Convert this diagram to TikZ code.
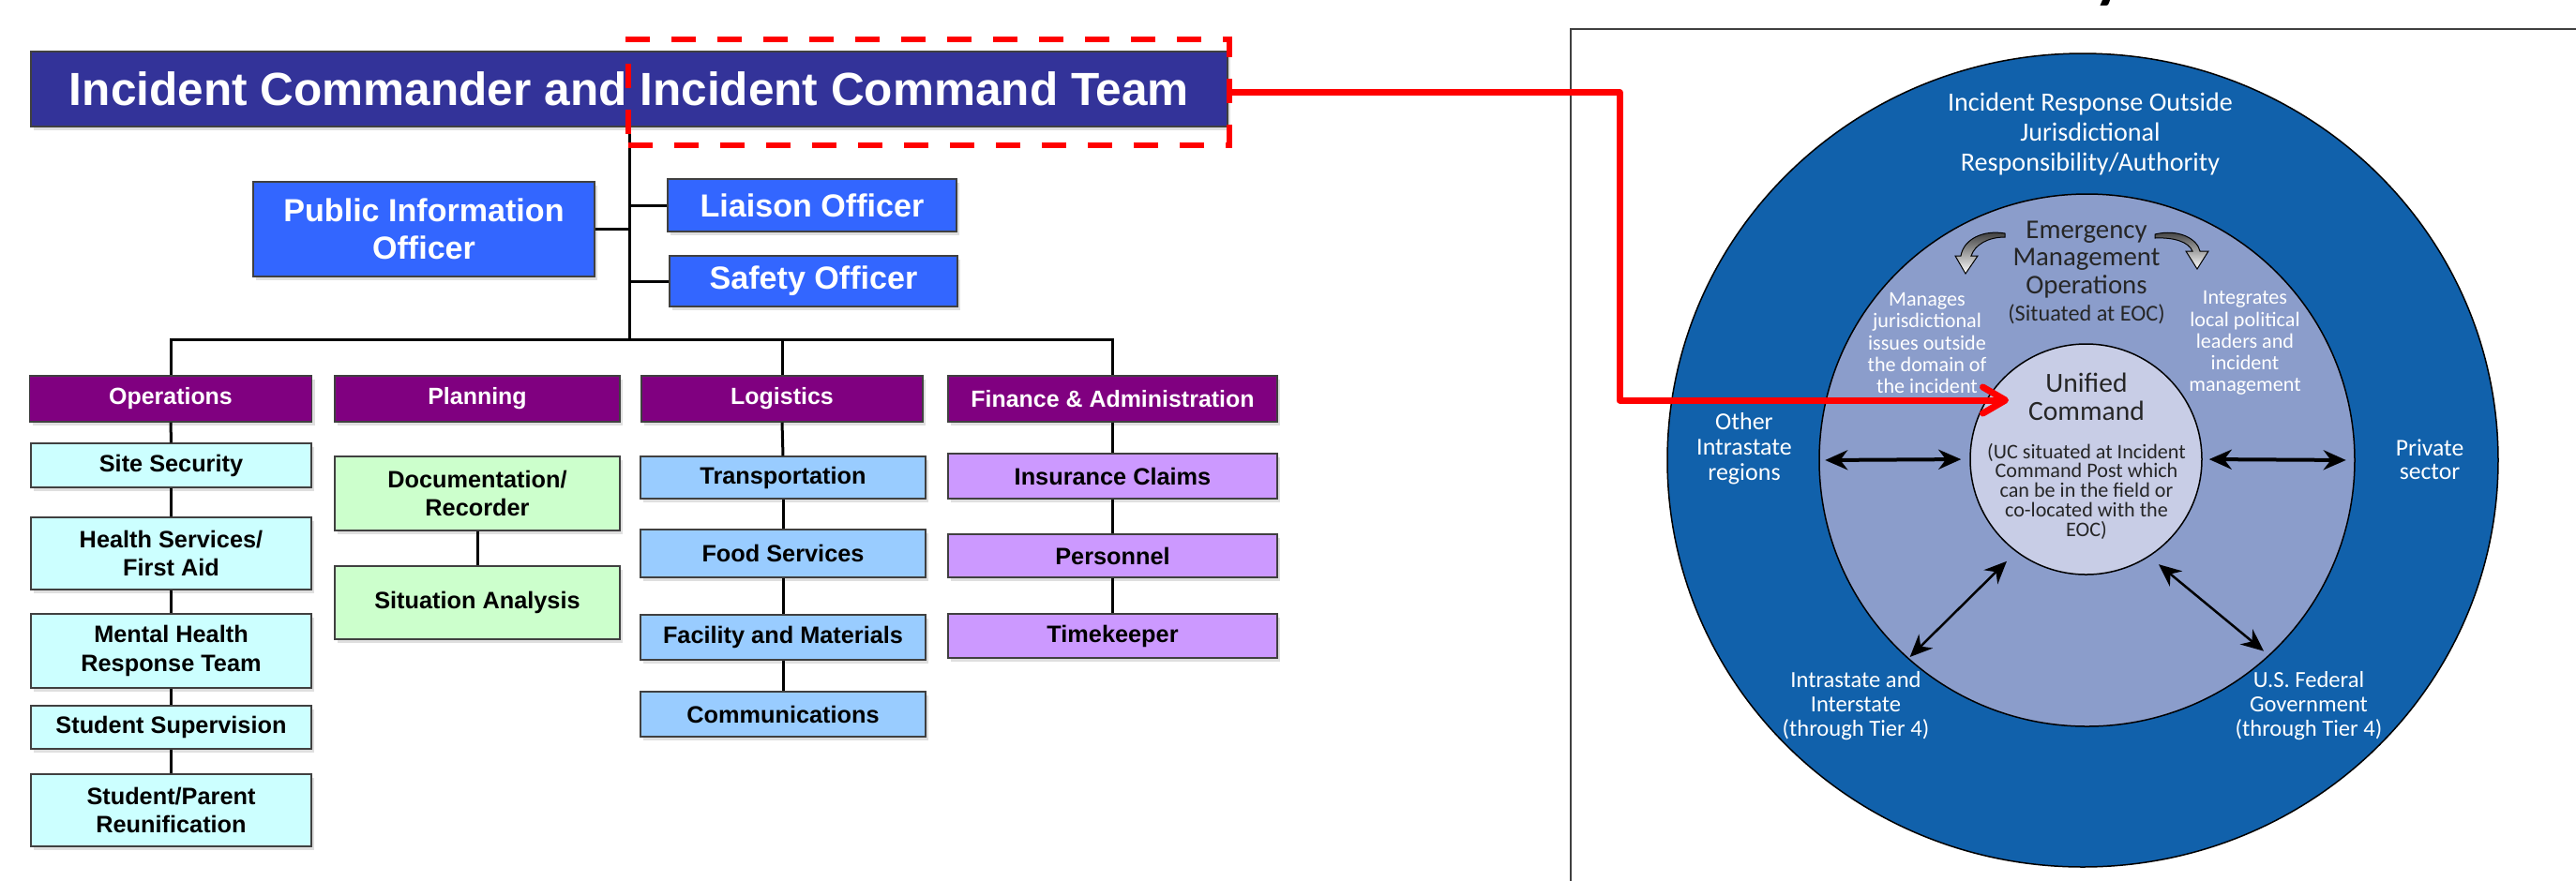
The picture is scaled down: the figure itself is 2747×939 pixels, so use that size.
\documentclass[tikz,border=0pt]{standalone}
\usepackage{fontspec}
\setmainfont{Liberation Sans}
\newfontfamily\gillfont{Carlito}
\usetikzlibrary{shapes.geometric,arrows.meta,shadows}
\definecolor{cmdblue}{RGB}{51,51,153}
\definecolor{staffblue}{RGB}{51,102,255}
\definecolor{sectpurple}{RGB}{128,0,128}
\definecolor{opscyan}{RGB}{204,255,255}
\definecolor{plangreen}{RGB}{204,255,204}
\definecolor{logblue}{RGB}{153,204,255}
\definecolor{finlilac}{RGB}{204,153,255}
\definecolor{ringdark}{RGB}{17,97,171}
\definecolor{ringmid}{RGB}{139,157,203}
\definecolor{ringpale}{RGB}{200,205,230}
\definecolor{hilitered}{RGB}{255,0,0}

\begin{document}
\begin{tikzpicture}[x=0.1mm, y=-0.1mm,
    chartbox/.style={draw=black!75, line width=0.15mm, rectangle, align=center, inner sep=0pt,
        drop shadow={shadow xshift=0.3mm, shadow yshift=-0.4mm, opacity=0.25}},
    cmdbox/.style={chartbox, fill=cmdblue, text=white, font=\fontsize{14.1}{17}\selectfont\bfseries},
    staffbox/.style={chartbox, fill=staffblue, text=white, font=\fontsize{9.7}{11.4}\selectfont\bfseries},
    sectbox/.style={chartbox, fill=sectpurple, text=white, minimum height=4.9mm, font=\fontsize{7.1}{8.6}\selectfont\bfseries},
    unitbox/.style={chartbox, text=black, font=\fontsize{7.2}{8.6}\selectfont\bfseries},
    orgline/.style={black, line width=0.3mm},
    ring/.style={ellipse, draw=black, line width=0.15mm, inner sep=0pt},
    ringlbl/.style={align=center, inner sep=0pt, text=white},
    darklbl/.style={align=center, inner sep=0pt, text=black!85},
    linkarrow/.style={black, line width=0.4mm, {Stealth[length=2.4mm, width=2.1mm]}-{Stealth[length=2.4mm, width=2.1mm]}},
    bentarrow/.style={draw=black, line width=0.1mm, top color=black!80, bottom color=white},
    redlink/.style={hilitered, line width=0.7mm, line join=round, -{Straight Barb[length=2.4mm, width=2.8mm, round]}}
]
    \useasboundingbox (0,0) rectangle (2747,939);

    %Place title node
    \node[cmdbox, minimum width=127.6mm, minimum height=8mm] (cmd) at (671,95) {Incident Commander and Incident Command Team};

    %Place staff nodes
    \node[staffbox, minimum width=36.4mm, minimum height=10.1mm] (pio) at (452,244.5) {Public Information\\Officer};
    \node[staffbox, minimum width=30.8mm, minimum height=5.6mm] (liaison) at (866,219) {Liaison Officer};
    \node[staffbox, minimum width=30.7mm, minimum height=5.4mm] (safety) at (867.5,300) {Safety Officer};

    \coordinate (busmid) at (671,362);

    %Place section nodes
    \node[sectbox, minimum width=30.1mm] (ops) at (182,425.5) {Operations};
    \node[sectbox, minimum width=30.4mm] (plan) at (509,425.5) {Planning};
    \node[sectbox, minimum width=30mm] (logi) at (834,425.5) {Logistics};
    \node[sectbox, minimum width=35.1mm] (fin) at (1186.5,425.5) {Finance \& Administration};

    %Place operations nodes
    \node[unitbox, fill=opscyan, minimum width=29.9mm, minimum height=4.7mm] (sitesec) at (182.5,496.5) {Site Security};
    \node[unitbox, fill=opscyan, minimum width=29.9mm, minimum height=7.7mm] (health) at (182.5,590.5) {Health Services/\\First Aid};
    \node[unitbox, fill=opscyan, minimum width=29.9mm, minimum height=7.9mm] (mental) at (182.5,694.5) {Mental Health\\Response Team};
    \node[unitbox, fill=opscyan, minimum width=29.9mm, minimum height=4.6mm] (stusup) at (182.5,776) {Student Supervision};
    \node[unitbox, fill=opscyan, minimum width=29.9mm, minimum height=7.7mm] (reunif) at (182.5,864.5) {Student/Parent\\Reunification};

    %Place planning nodes
    \node[unitbox, fill=plangreen, minimum width=30.4mm, minimum height=7.9mm] (docrec) at (509,526.5) {Documentation/\\Recorder};
    \node[unitbox, fill=plangreen, minimum width=30.4mm, minimum height=7.8mm] (sitan) at (509,643) {Situation Analysis};

    %Place logistics nodes
    \node[unitbox, fill=logblue, minimum width=30.4mm, minimum height=4.5mm] (transp) at (835,509.5) {Transportation};
    \node[unitbox, fill=logblue, minimum width=30.4mm, minimum height=5.1mm] (food) at (835,590.5) {Food Services};
    \node[unitbox, fill=logblue, minimum width=30.4mm, minimum height=4.8mm] (facil) at (835,680) {Facility and Materials};
    \node[unitbox, fill=logblue, minimum width=30.4mm, minimum height=4.8mm] (comms) at (835,762) {Communications};

    %Place finance nodes
    \node[unitbox, fill=finlilac, minimum width=35.1mm, minimum height=4.8mm] (insur) at (1186.5,508) {Insurance Claims};
    \node[unitbox, fill=finlilac, minimum width=35.1mm, minimum height=4.6mm] (persnl) at (1186.5,593) {Personnel};
    \node[unitbox, fill=finlilac, minimum width=35.1mm, minimum height=4.7mm] (timek) at (1186.5,678.5) {Timekeeper};

    %Draw chart lines
    \draw[orgline] (cmd.south) -- (busmid);
    \draw[orgline] (pio.east) -- (pio.east -| busmid);
    \draw[orgline] (liaison.west) -- (liaison.west -| busmid);
    \draw[orgline] (safety.west) -- (safety.west -| busmid);
    \draw[orgline] (ops.north) -- (ops.north |- busmid) -- (fin.north |- busmid) -- (fin.north);
    \draw[orgline] (logi.north) -- (logi.north |- busmid);
    \draw[orgline] (ops.south) -- (sitesec.north);
    \draw[orgline] (sitesec.south) -- (health.north);
    \draw[orgline] (health.south) -- (mental.north);
    \draw[orgline] (mental.south) -- (stusup.north);
    \draw[orgline] (stusup.south) -- (reunif.north);
    \draw[orgline] (docrec.south) -- (sitan.north);
    \draw[orgline] (logi.south) -- (transp.north);
    \draw[orgline] (transp.south) -- (food.north);
    \draw[orgline] (food.south) -- (facil.north);
    \draw[orgline] (facil.south) -- (comms.north);
    \draw[orgline] (fin.south) -- (insur.north);
    \draw[orgline] (insur.south) -- (persnl.north);
    \draw[orgline] (persnl.south) -- (timek.north);

    %Draw slide frame
    \node[font=\gillfont\fontsize{28}{30}\selectfont, anchor=base, inner sep=0pt] (titlefrag) at (2252,-10) {y};
    \draw[black!75, line width=0.25mm] (1675,960) -- (1675,31) -- (2760,31);

    %Place ring nodes
    \node[ring, fill=ringdark, minimum width=88.6mm, minimum height=86.8mm] (outring) at (2221,491) {};
    \node[ring, fill=ringmid, minimum width=57.1mm, minimum height=56.8mm] (midring) at (2225.5,491) {};
    \node[ring, fill=ringpale, minimum width=24.7mm, minimum height=24.6mm] (ucring) at (2224.5,490) {};

    %Place ring labels
    \node[ringlbl, font=\gillfont\fontsize{8}{9.2}\selectfont] (outlbl) at (2229,143) {Incident Response Outside\\Jurisdictional\\Responsibility/Authority};
    \node[darklbl, font=\gillfont\fontsize{8.2}{8.3}\selectfont] (emolbl) at (2225,291) {Emergency\\Management\\Operations\\{\fontsize{6.9}{7.6}\selectfont(Situated at EOC)}};
    \node[ringlbl, font=\gillfont\fontsize{6.3}{6.6}\selectfont] (managelbl) at (2055,366) {Manages\\jurisdictional\\issues outside\\the domain of\\the incident};
    \node[ringlbl, font=\gillfont\fontsize{6.3}{6.6}\selectfont] (integlbl) at (2394,366) {Integrates\\local political\\leaders and\\incident\\management};
    \node[darklbl, font=\gillfont\fontsize{8.4}{8.5}\selectfont] (uclbl) at (2225,423) {Unified\\Command};
    \node[darklbl, font=\gillfont\fontsize{6.3}{5.9}\selectfont] (ucnote) at (2225,524) {(UC situated at Incident\\Command Post which\\can be in the field or\\co-located with the\\EOC)};
    \node[ringlbl, font=\gillfont\fontsize{7.4}{7.7}\selectfont] (otherlbl) at (1860,479) {Other\\Intrastate\\regions};
    \node[ringlbl, font=\gillfont\fontsize{7.3}{7.1}\selectfont] (privlbl) at (2591,490) {Private\\sector};
    \node[ringlbl, font=\gillfont\fontsize{7}{7.5}\selectfont] (intralbl) at (1979,753) {Intrastate and\\Interstate\\(through Tier 4)};
    \node[ringlbl, font=\gillfont\fontsize{7}{7.5}\selectfont] (fedlbl) at (2462,753) {U.S. Federal\\Government\\(through Tier 4)};

    %Draw bent arrows
    \draw[bentarrow] (2138,249) .. controls (2115,245) and (2094,255) .. (2091,273) -- (2085,273) -- (2096,292) -- (2109,273) -- (2102,273) .. controls (2106,261) and (2120,253) .. (2138,253) -- cycle;
    \draw[bentarrow] (2298,250) .. controls (2322,244) and (2343,254) .. (2346,268) -- (2355,268) -- (2343,287) -- (2331,268) -- (2338,268) .. controls (2334,258) and (2318,253) .. (2298,254) -- cycle;

    %Draw ring arrows
    \draw[linkarrow, shorten <=0.7mm, shorten >=0.9mm] (midring.west) -- (ucring.west);
    \draw[linkarrow, shorten <=0.7mm, shorten >=1mm] (ucring.east) -- (midring.east);
    \draw[linkarrow, line width=0.25mm, shorten <=1.4mm, shorten >=0.3mm] (ucring.233) -- (midring.228);
    \draw[linkarrow, line width=0.25mm, shorten <=1.3mm, shorten >=0.8mm] (ucring.303) -- (midring.313);

    %Draw highlight and link
    \node[draw=hilitered, line width=0.65mm, dash pattern=on 2.6mm off 2.3mm, minimum width=64.1mm, minimum height=11.3mm, inner sep=0pt] (hilite) at (990.5,98.5) {};
    \coordinate (redbend) at (1727,427);
    \coordinate (uctip) at (2142,427);
    \draw[redlink] (hilite.east) -| (redbend) -- (uctip);
\end{tikzpicture}
\end{document}
